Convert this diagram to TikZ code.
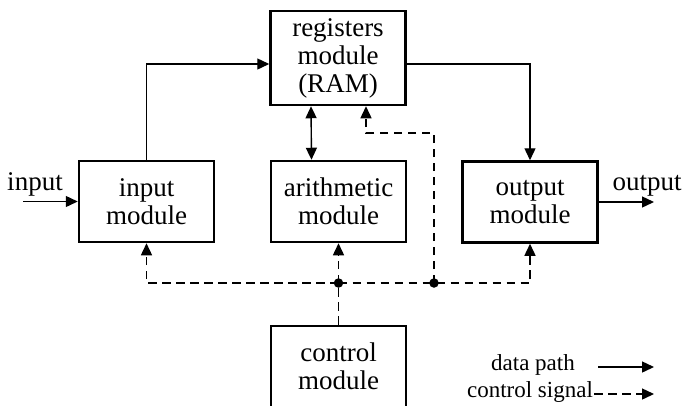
\documentclass[tikz,border=0pt]{standalone}
\usepackage{fontspec}
\setmainfont{Liberation Serif}
\usetikzlibrary{arrows.meta,calc}
\begin{document}
\begin{tikzpicture}[x=1pt,y=-1pt,
  box/.style={draw,line width=2.5pt,minimum width=135pt,minimum height=81pt,align=center,inner sep=0pt,font=\fontsize{27}{28}\selectfont},
  lbl/.style={font=\fontsize{27}{28}\selectfont,inner sep=0pt,anchor=base},
  leg/.style={font=\fontsize{23}{25}\selectfont,inner sep=0pt,anchor=base},
  dp/.style={line width=1.4pt,-{Triangle[length=12pt,width=11pt]}},
  cs/.style={line width=1.4pt,dash pattern=on 8.5pt off 5.5pt},
  csa/.style={cs,-{Triangle[length=12pt,width=11pt]}},
  dot/.style={circle,fill,inner sep=0pt,minimum size=9.5pt}]
\clip (0,0) rectangle (682,405);
\node[box,minimum height=94pt] (reg) at (338,58) {registers\\module\\(RAM)};
\node[box] (in) at (146.5,201.5) {input\\module};
\node[box] (ar) at (338.5,201.5) {arithmetic\\module};
\node[box] (out) at (530,202) {output\\module};
\node[box] (ctl) at (338.5,366.5) {control\\module};
% external
\coordinate (inL) at (23,201.5);
\coordinate (outR) at (654,202);
\node[lbl] (inlab) at (35,190) {input};
\node[lbl] (outlab) at (647,190) {output};
\draw[dp] (inL) -- (in.west);
\draw[dp] (out.east) -- (outR);
% data paths
\draw[dp] (in.north) |- ([yshift=-6pt]reg.west);
\draw[dp] ([yshift=-6pt]reg.east) -| (out.north);
\draw[dp,{Triangle[length=12pt,width=11pt]}-{Triangle[length=12pt,width=11pt]}] ([xshift=-27pt]reg.south) -- ([xshift=-27pt]ar.north);
% control signals
\coordinate (j1) at (338.5,283);
\coordinate (j2) at (434,283);
\coordinate (k) at (434,133);
\draw[cs] (ctl.north) -- (j1);
\draw[csa] (j1) -- (ar.south);
\draw[csa] (j1) -| (in.south);
\draw[csa] (j1) -| (out.south);
\draw[csa] (j2) -- (k) -| ([xshift=28pt]reg.south);
\node[dot] (d1) at (j1) {};
\node[dot] (d2) at (j2) {};
% legend
\node[leg] (l1) at (533,370) {data path};
\node[leg] (l2) at (530,397) {control signal};
\coordinate (a1) at (598,367);
\coordinate (b1) at (654,367);
\coordinate (a2) at (594,394);
\coordinate (b2) at (654,394);
\draw[dp] (a1) -- (b1);
\draw[csa] (a2) -- (b2);
\end{tikzpicture}
\end{document}
